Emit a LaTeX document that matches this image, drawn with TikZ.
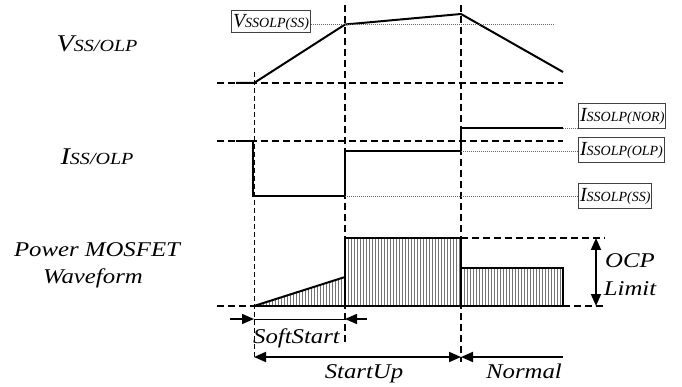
\documentclass[tikz,border=0pt]{standalone}
\usepackage{fontspec}
\setmainfont{Liberation Serif}[ItalicFont={Liberation Serif Italic}]
\newfontfamily\tnr{Liberation Serif Italic}
\usetikzlibrary{arrows.meta}
\newcommand\BigLet[1]{{\fontsize{24}{26}\selectfont #1}}
\newcommand\SmallPart[1]{{\fontsize{17}{19}\selectfont #1}}
\newcommand\TagBig[1]{{\fontsize{20}{22}\selectfont #1}}
\newcommand\TagSmall[1]{{\fontsize{14}{16}\selectfont #1}}
\begin{document}
\begin{tikzpicture}[x=1pt,y=-1pt,
  wave/.style={line width=2pt, line join=miter},
  bigdash/.style={line width=1.6pt, dash pattern=on 7pt off 4pt},
  smalldash/.style={line width=0.9pt, dash pattern=on 5pt off 3pt},
  dots/.style={black!60, line width=0.8pt, dash pattern=on 1pt off 1pt},
  lbl/.style={font=\tnr\fontsize{21}{24}\selectfont, xscale=1.18, inner sep=0pt, anchor=base},
  tag/.style={draw=black!75, line width=1pt, inner sep=1.5pt, font=\tnr, minimum height=25pt},
  hatch/.style={black!55, line width=0.6pt},
  arr/.style={line width=1.5pt, -{Triangle[length=12pt,width=10pt]}},
  arrboth/.style={line width=1.8pt, {Triangle[length=12pt,width=10pt]}-{Triangle[length=12pt,width=10pt]}}
]
\useasboundingbox (0,0) rectangle (682,387);

% left labels
\node[lbl] (vlab) at (97,52) {\BigLet{V}\SmallPart{SS/OLP}};
\node[lbl] (ilab) at (97,165) {\BigLet{I}\SmallPart{SS/OLP}};
\node[lbl] (plab1) at (97,257) {Power MOSFET};
\node[lbl] (plab2) at (93,283) {Waveform};

% vertical dashed guide lines
\coordinate (ga1) at (254,72);  \coordinate (ga2) at (254,357);
\coordinate (gb1) at (345,5);   \coordinate (gb2) at (345,342);
\coordinate (gc1) at (461,5);   \coordinate (gc2) at (461,362);
\draw[smalldash] (ga1) -- (ga2);
\draw[bigdash] (gb1) -- (gb2);
\draw[bigdash] (gc1) -- (gc2);

% horizontal dashed lines
\coordinate (vb1) at (217,83);  \coordinate (vb2) at (563,83);
\coordinate (ib1) at (217,141); \coordinate (ib2) at (563,141);
\coordinate (pb1) at (217,306); \coordinate (pb2) at (254,306);
\draw[bigdash] (vb1) -- (vb2);
\draw[bigdash] (ib1) -- (ib2);
\draw[bigdash] (pb1) -- (pb2);

% V waveform
\coordinate (v0) at (236,83);
\coordinate (v1) at (254,83);
\coordinate (v2) at (345,24.5);
\coordinate (v3) at (461,14);
\coordinate (v4) at (563,72);
\draw[wave] (v0) -- (v1) -- (v2) -- (v3) -- (v4);

\node[tag, minimum height=22pt] (vtag) at (271,22) {\TagBig{V}\TagSmall{SSOLP(SS)}};
\coordinate (vdotend) at (555,24.5);
\draw[dots] (vtag.east |- v2) -- (vdotend);

% I waveform
\coordinate (i0) at (236,141);
\coordinate (i1) at (253,141);
\coordinate (i2) at (253,196);
\coordinate (i3) at (345,196);
\coordinate (i4) at (345,151);
\coordinate (i5) at (461,151);
\coordinate (i6) at (461,128);
\coordinate (i7) at (563,128);
\draw[wave] (i0) -- (i1) -- (i2) -- (i3) -- (i4) -- (i5) -- (i6) -- (i7);

\node[tag, anchor=west] (nortag) at (578,116) {\TagBig{I}\TagSmall{SSOLP(NOR)}};
\node[tag, anchor=west] (olptag) at (578,150) {\TagBig{I}\TagSmall{SSOLP(OLP)}};
\node[tag, anchor=west] (sstag) at (578,196.5) {\TagBig{I}\TagSmall{SSOLP(SS)}};
\draw[dots] (i7) -- (nortag.west |- i7);
\draw[dots] (i5) -- (olptag.west |- i5);
\draw[dots] (i3) -- (sstag.west |- i3);

% Power MOSFET waveform hatching
\foreach \x in {257,260,...,344} {
  \pgfmathsetmacro\yt{306-29*(\x-254)/91}
  \draw[hatch] (\x,306) -- (\x,\yt);
}
\foreach \x in {348,351,...,459} { \draw[hatch] (\x,306) -- (\x,238); }
\foreach \x in {464,467,...,561} { \draw[hatch] (\x,306) -- (\x,268); }

\coordinate (p0) at (254,306);
\coordinate (p1) at (345,277);
\coordinate (r1a) at (345,238);
\coordinate (r1b) at (461,306);
\coordinate (r2a) at (461,268);
\coordinate (r2b) at (563,306);
\draw[wave] (p0) -- (p1);
\draw[wave] (r1a) rectangle (r1b);
\draw[wave] (r2a) rectangle (r2b);
\draw[wave] (p0) -- (r2b);

% OCP limit
\coordinate (oc1) at (605,238);
\coordinate (oc2) at (605,306);
\draw[bigdash] (r1b |- r1a) -- (oc1);
\draw[bigdash] (r2b) -- (oc2);
\coordinate (oa1) at (596,238);
\coordinate (oa2) at (596,306);
\draw[arrboth] (oa1) -- (oa2);
\node[lbl] (ocp) at (630,267) {OCP};
\node[lbl] (lim) at (630,295) {Limit};

% SoftStart dimension
\coordinate (s0) at (230,319);
\coordinate (s1) at (254,319);
\coordinate (s2) at (345,319);
\coordinate (s3) at (367,319);
\draw[arr] (s0) -- (s1);
\draw[arr] (s3) -- (s2);
\draw[line width=1pt] (s1) -- (s2);
\node[lbl] (soft) at (296.5,343) {SoftStart};

% StartUp / Normal
\coordinate (u0) at (254,357);
\coordinate (u1) at (461,357);
\coordinate (u2) at (563,357);
\draw[arrboth] (u0) -- (u1);
\draw[line width=1.8pt, -{Triangle[length=12pt,width=10pt]}] (u2) -- (u1);
\node[lbl] (startup) at (364,378) {StartUp};
\node[lbl] (normal) at (524,378) {Normal};
\end{tikzpicture}
\end{document}
